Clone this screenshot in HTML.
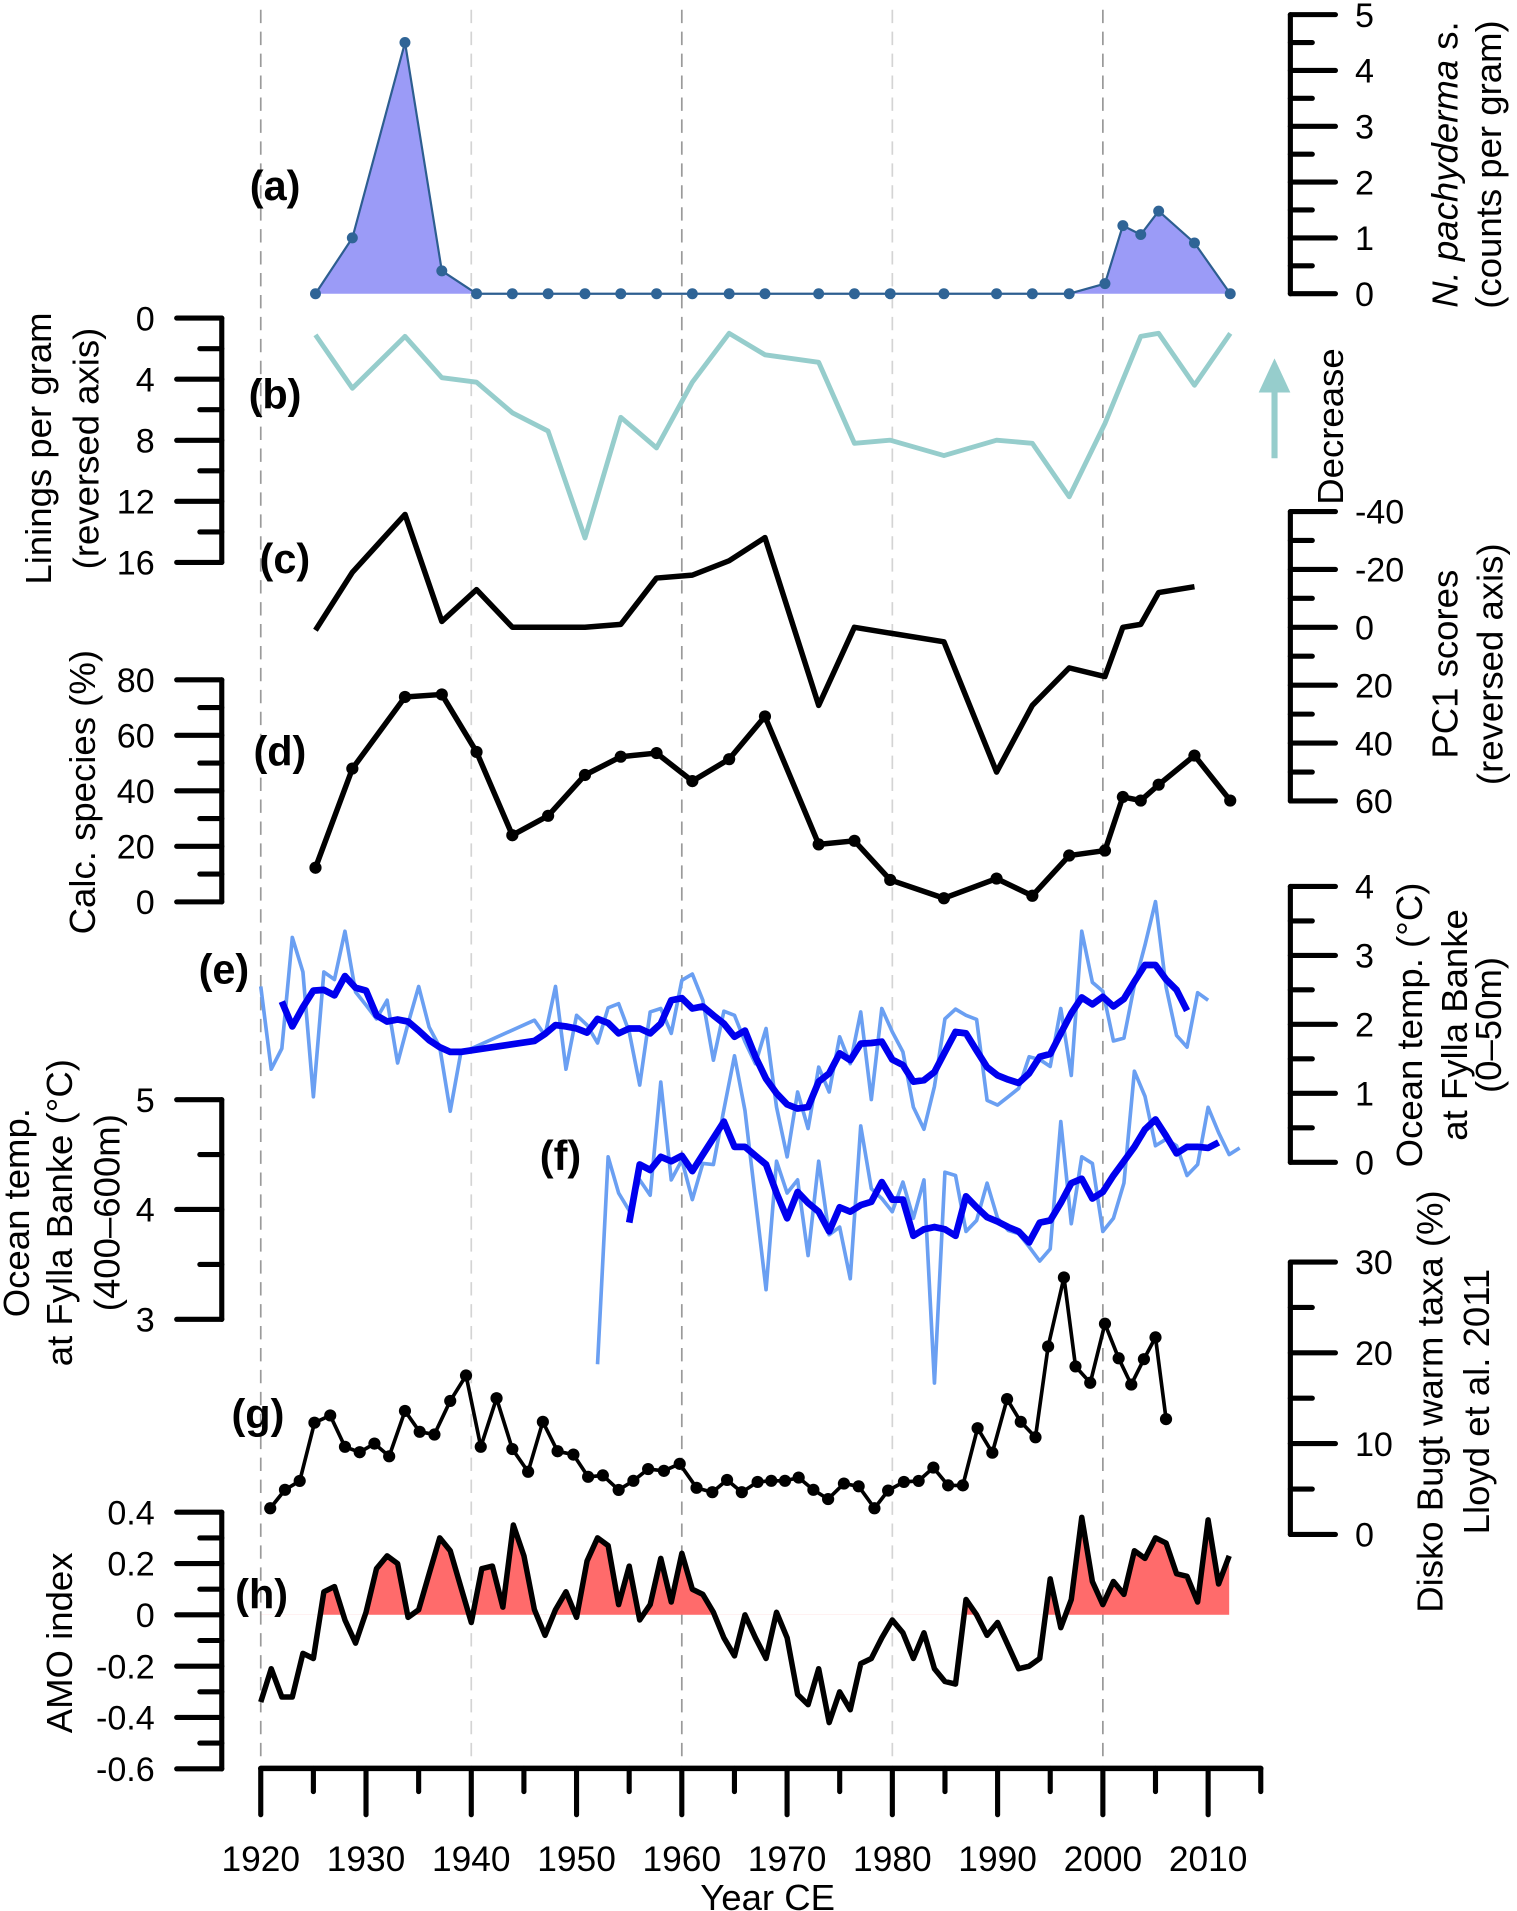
<!DOCTYPE html>
<html><head><meta charset="utf-8"><style>
html,body{margin:0;padding:0;background:#fff;}
svg{display:block;font-family:"Liberation Sans",Arial,sans-serif;}
</style></head><body>
<svg id="chart" width="1517" height="1911" viewBox="0 0 1245 1568" preserveAspectRatio="none" xmlns="http://www.w3.org/2000/svg">
<defs><clipPath id="hclip"><rect x="0" y="0" width="1245" height="1325"/></clipPath></defs>
<g id="grid"></g>
<g id="marks"></g>
<g id="axes"></g>
<g id="labels" font-size="30" fill="#000">
<text x="205" y="164" font-size="34" font-weight="bold">(a)</text>
<text x="204" y="335" font-size="34" font-weight="bold">(b)</text>
<text x="213" y="470" font-size="34" font-weight="bold">(c)</text>
<text x="208" y="628" font-size="34" font-weight="bold">(d)</text>
<text x="163" y="807" font-size="34" font-weight="bold">(e)</text>
<text x="443" y="960" font-size="34" font-weight="bold">(f)</text>
<text x="190" y="1172" font-size="34" font-weight="bold">(g)</text>
<text x="193" y="1320" font-size="34" font-weight="bold">(h)</text>
<text transform="translate(42,368) rotate(-90)" text-anchor="middle">Linings per gram</text>
<text transform="translate(81,368) rotate(-90)" text-anchor="middle">(reversed axis)</text>
<text transform="translate(78,650) rotate(-90)" text-anchor="middle">Calc. species (%)</text>
<text transform="translate(24,995) rotate(-90)" text-anchor="middle">Ocean temp.</text>
<text transform="translate(59,995) rotate(-90)" text-anchor="middle">at Fylla Banke (°C)</text>
<text transform="translate(98,995) rotate(-90)" text-anchor="middle">(400–600m)</text>
<text transform="translate(59,1348) rotate(-90)" text-anchor="middle">AMO index</text>
<text transform="translate(1196,135) rotate(-90)" text-anchor="middle"><tspan font-style="italic">N. pachyderma</tspan> s.</text>
<text transform="translate(1232,135) rotate(-90)" text-anchor="middle">(counts per gram)</text>
<text transform="translate(1102,350) rotate(-90)" text-anchor="middle">Decrease</text>
<text transform="translate(1196,545) rotate(-90)" text-anchor="middle">PC1 scores</text>
<text transform="translate(1233,545) rotate(-90)" text-anchor="middle">(reversed axis)</text>
<text transform="translate(1167,841) rotate(-90)" text-anchor="middle">Ocean temp. (°C)</text>
<text transform="translate(1204,841) rotate(-90)" text-anchor="middle">at Fylla Banke</text>
<text transform="translate(1232,841) rotate(-90)" text-anchor="middle">(0–50m)</text>
<text transform="translate(1184,1150) rotate(-90)" text-anchor="middle">Disko Bugt warm taxa (%)</text>
<text transform="translate(1222,1150) rotate(-90)" text-anchor="middle">Lloyd et al. 2011</text>
<text x="630" y="1567" text-anchor="middle" font-size="30">Year CE</text>
</g>
<g>
<line x1="1046" y1="376" x2="1046" y2="316" stroke="#96cdcc" stroke-width="5"/>
<polygon points="1046,294 1033,322 1059,322" fill="#96cdcc"/>
</g>
</svg>
<script>
// ---- data ----
const aYears=[1925.2,1928.7,1933.7,1937.2,1940.5,1943.9,1947.3,1950.8,1954.2,1957.6,1961.0,1964.5,1967.9,1973.0,1976.4,1979.8,1984.9,1989.9,1993.3,1996.8,2000.2,2001.9,2003.6,2005.3,2008.7,2012.1];
const aVals=[0,1.0,4.5,0.41,0,0,0,0,0,0,0,0,0,0,0,0,0,0,0,0,0.18,1.22,1.06,1.48,0.91,0];
const bYears=[1925.2,1928.7,1933.7,1937.2,1940.5,1943.9,1947.3,1950.8,1954.2,1957.6,1961.0,1964.5,1967.9,1973.0,1976.4,1979.8,1984.9,1989.9,1993.3,1996.8,2000.2,2003.6,2005.3,2008.7,2012.1];
const bVals=[1.1,4.6,1.2,3.9,4.2,6.2,7.4,14.4,6.5,8.5,4.2,1.0,2.4,2.9,8.2,8.0,9.0,8.0,8.2,11.7,6.9,1.2,1.0,4.4,1.0];
const cYears=[1925.2,1928.7,1933.7,1937.2,1940.5,1943.9,1947.3,1950.8,1954.2,1957.6,1961.0,1964.5,1967.9,1973.0,1976.4,1979.8,1984.9,1989.9,1993.3,1996.8,2000.2,2001.9,2003.6,2005.3,2008.7];
const cVals=[1,-19,-39,-2,-13,0,0,0,-1,-17,-18,-23,-31,27,0,2,5,50,27,14,17,0,-1,-12,-14];
const dYears=[1925.2,1928.7,1933.7,1937.2,1940.5,1943.9,1947.3,1950.8,1954.2,1957.6,1961.0,1964.5,1967.9,1973.0,1976.4,1979.8,1984.9,1989.9,1993.3,1996.8,2000.2,2001.9,2003.6,2005.3,2008.7,2012.1];
const dVals=[12.3,48,73.8,74.7,54,24,31,45.7,52.3,53.6,43.5,51.4,66.8,20.7,22,7.9,1.3,8.4,2.2,16.7,18.5,37.8,36.5,42.2,52.7,36.5];
const eLightYears=[1920,1921,1922,1923,1924,1925,1926,1927,1928,1929,1930,1931,1932,1933,1934,1935,1936,1937,1938,1939,
1946,1947,1948,1949,1950,1951,1952,1953,1954,1955,1956,1957,1958,1959,1960,1961,1962,1963,1964,1965,
1966,1967,1968,1969,1970,1971,1972,1973,1974,1975,1976,1977,1978,1979,1980,1981,1982,1983,1984,1985,
1986,1987,1988,1989,1990,1991,1992,1993,1994,1995,1996,1997,1998,1999,2000,2001,2002,2003,2004,2005,2006,2007,2008,2009,2010];
const eLightVals=[2.55,1.35,1.65,3.26,2.76,0.95,2.76,2.65,3.35,2.47,2.28,2.08,2.35,1.44,2.01,2.55,1.96,1.67,0.74,1.58,
2.06,1.84,2.55,1.35,2.13,1.99,1.73,2.24,2.30,1.89,1.12,2.18,2.23,1.87,2.64,2.73,2.35,1.48,2.19,2.13,
1.75,1.43,1.94,0.80,0.08,1.02,0.49,1.38,1.02,1.82,1.43,2.18,0.91,2.23,1.89,1.60,0.80,0.48,1.10,2.08,
2.22,2.13,2.07,0.90,0.83,0.95,1.07,1.53,1.49,1.39,2.23,1.26,3.35,2.61,2.48,1.76,1.80,2.57,3.15,3.78,2.54,1.84,1.67,2.46,2.35];
const eDarkYears=[1922,1923,1924,1925,1926,1927,1928,1929,1930,1931,1932,1933,1934,1935,1936,1937,1938,1939,
1946,1947,1948,1949,1950,1951,1952,1953,1954,1955,1956,1957,1958,1959,1960,1961,1962,1963,1964,1965,
1966,1967,1968,1969,1970,1971,1972,1973,1974,1975,1976,1977,1978,1979,1980,1981,1982,1983,1984,1985,
1986,1987,1988,1989,1990,1991,1992,1993,1994,1995,1996,1997,1998,1999,2000,2001,2002,2003,2004,2005,2006,2007,2008];
const eDarkVals=[2.33,1.97,2.25,2.49,2.50,2.42,2.70,2.53,2.49,2.13,2.04,2.07,2.04,1.91,1.77,1.67,1.60,1.60,
1.76,1.86,1.99,1.97,1.94,1.88,2.08,2.02,1.87,1.94,1.94,1.87,2.01,2.35,2.38,2.23,2.26,2.13,2.01,1.82,
1.91,1.53,1.21,1.00,0.84,0.78,0.80,1.17,1.29,1.58,1.48,1.72,1.73,1.75,1.49,1.41,1.17,1.19,1.31,1.60,
1.89,1.87,1.62,1.38,1.26,1.20,1.15,1.29,1.53,1.57,1.87,2.16,2.39,2.29,2.40,2.26,2.37,2.62,2.86,2.86,2.65,2.50,2.20];
const fLightYears=[1952,1953,1954,1955,1956,1957,1958,1959,1960,1961,1962,1963,1964,1965,1966,1967,1968,1969,1970,1971,1972,1973,1974,1975,1976,1977,1978,1979,1980,1981,1982,1983,1984,1985,1986,1987,1988,1989,1990,1991,1992,1993,1994,1995,1996,1997,1998,1999,2000,2001,2002,2003,2004,2005,2006,2007,2008,2009,2010,2011,2012,2013];
const fLightVals=[2.59,4.48,4.15,3.99,4.27,4.13,5.16,4.27,4.45,4.09,4.42,4.41,4.91,5.4,4.90,4.09,3.27,
4.44,4.15,4.27,3.58,4.44,3.77,3.84,3.37,4.76,4.19,4.10,3.98,4.25,3.92,4.27,2.42,4.34,4.31,3.80,3.90,
4.24,3.92,3.81,3.78,3.66,3.53,3.64,4.80,3.87,4.48,4.42,3.80,3.92,4.24,5.26,5.03,4.58,4.64,4.58,4.31,4.41,4.93,4.70,4.50,4.56];
const fDarkYears=[1955,1956,1957,1958,1959,1960,1961,1962,1963,1964,1965,1966,1967,1968,1969,1970,1971,1972,1973,1974,1975,1976,1977,1978,1979,1980,1981,1982,1983,1984,1985,1986,1987,1988,1989,1990,1991,1992,1993,1994,1995,1996,1997,1998,1999,2000,2001,2002,2003,2004,2005,2006,2007,2008,2009,2010,2011];
const fDarkVals=[3.88,4.41,4.36,4.48,4.44,4.49,4.35,4.50,4.65,4.80,4.57,4.57,
4.49,4.41,4.15,3.92,4.16,4.06,3.98,3.80,4.02,3.98,4.04,4.07,4.25,4.09,4.09,3.76,3.82,3.84,3.82,3.76,
4.12,4.02,3.93,3.89,3.84,3.80,3.70,3.88,3.90,4.06,4.24,4.28,4.10,4.16,4.31,4.44,4.57,4.73,4.82,4.67,4.51,4.57,4.57,4.56,4.61];
const gYears=[1920.9,1922.3,1923.7,1925.1,1926.6,1928.0,1929.4,1930.8,1932.2,1933.7,1935.1,1936.5,1938.0,1939.5,1940.9,1942.4,1943.9,1945.4,1946.8,1948.2,1949.7,1951.1,1952.5,1954.0,1955.4,1956.8,1958.3,1959.8,1961.4,1962.9,1964.3,1965.7,1967.2,1968.5,1969.8,1971.1,1972.5,1973.9,1975.4,1976.8,1978.3,1979.6,1981.1,1982.5,1983.9,1985.3,1986.7,1988.1,1989.5,1990.9,1992.2,1993.6,1994.8,1996.3,1997.4,1998.8,2000.2,2001.5,2002.7,2003.9,2005.0,2006.0];
const gVals=[2.88,4.91,5.89,12.3,13.1,9.65,9.05,10.0,8.6,13.6,11.3,11.0,14.7,17.5,9.65,15.0,9.4,6.9,12.4,9.16,8.79,6.34,6.5,4.9,5.9,7.2,7.0,7.77,5.13,4.65,6.0,4.65,5.78,5.9,5.9,6.26,4.91,3.89,5.6,5.3,2.88,4.83,5.78,5.89,7.36,5.4,5.4,11.7,9.0,14.9,12.4,10.7,20.7,28.3,18.5,16.7,23.2,19.4,16.5,19.3,21.7,12.7];
const hYears=[1920,1921,1922,1923,1924,1925,1926,1927,1928,1929,1930,1931,1932,1933,1934,1935,1936,1937,1938,1939,1940,1941,1942,1943,1944,1945,1946,1947,1948,1949,1950,1951,1952,1953,1954,1955,1956,1957,1958,1959,1960,1961,1962,1963,1964,1965,1966,1967,1968,1969,1970,1971,1972,1973,1974,1975,1976,1977,1978,1979,1980,1981,1982,1983,1984,1985,1986,1987,1988,1989,1990,1991,1992,1993,1994,1995,1996,1997,1998,1999,2000,2001,2002,2003,2004,2005,2006,2007,2008,2009,2010,2011,2012];
const hVals=[-0.34,-0.21,-0.32,-0.32,-0.15,-0.17,0.09,0.11,-0.02,-0.11,0.01,0.18,0.23,0.20,-0.01,0.02,0.16,0.30,0.25,0.11,
-0.03,0.18,0.19,0.03,0.35,0.23,0.02,-0.08,0.02,0.09,-0.01,0.21,0.30,0.27,0.04,0.19,-0.02,0.04,0.22,0.05,
0.24,0.10,0.08,0.01,-0.09,-0.16,0.00,-0.09,-0.17,0.01,-0.09,-0.31,-0.35,-0.21,-0.42,-0.30,-0.37,-0.19,-0.17,-0.09,
-0.02,-0.07,-0.17,-0.07,-0.21,-0.26,-0.27,0.06,0.00,-0.08,-0.03,-0.12,-0.21,-0.20,-0.17,0.14,-0.05,0.06,0.38,0.13,
0.04,0.13,0.08,0.25,0.22,0.30,0.28,0.16,0.15,0.05,0.37,0.12,0.23];
const xTickYears=[1920,1930,1940,1950,1960,1970,1980,1990,2000,2010];
const xTickLabels=["1920","1930","1940","1950","1960","1970","1980","1990","2000","2010"];
const gridYears=[1920,1940,1960,1980,2000];
const aTicks=[0,1,2,3,4,5];
const bTicks=[0,4,8,12,16];
const cTicks=[-40,-20,0,20,40,60];
const dTicks=[0,20,40,60,80];
const eTicks=[0,1,2,3,4];
const fTicks=[3,4,5];
const gTicks=[0,10,20,30];
const hTicks=[-0.6,-0.4,-0.2,0,0.2,0.4];
const hTickLabels=["-0.6","-0.4","-0.2","0","0.2","0.4"];

// ---- scales ----
const X=y=>214+(y-1920)*8.639;
const Ya=v=>241-v*45.8;
const Yb=v=>261+v*12.53;
const Yc=v=>419.7+(v+40)*2.375;
const Yd=v=>740-v*2.278;
const Ye=v=>953.7-v*56.6;
const Yf=v=>902.3+(5-v)*90.1;
const Yg=v=>1259-v*7.45;
const Yh=v=>1325-v*210.5;

const NS="http://www.w3.org/2000/svg";
const grid=document.getElementById('grid');
const marks=document.getElementById('marks');
const axes=document.getElementById('axes');
function el(tag,parent){const e=document.createElementNS(NS,tag);parent.appendChild(e);return e;}
function pathD(xs,vs,Y){return xs.map((x,i)=>(i?'L':'M')+X(x).toFixed(1)+','+Y(vs[i]).toFixed(1)).join('');}

gridYears.forEach(y=>{
  const l=el('line',grid);
  
  
  l.setAttribute('x1',X(y));l.setAttribute('x2',X(y));l.setAttribute('y1',8);l.setAttribute('y2',1448);
  l.setAttribute('stroke',(y===1940||y===1980)?'#d4d4d4':'#9a9a9a');
  l.setAttribute('stroke-width','1.4');l.setAttribute('stroke-dasharray','11,7');
});

function series(xs,vs,Y,stroke,w,name){
  const p=el('path',marks);
  
  
  p.setAttribute('d',pathD(xs,vs,Y));p.setAttribute('fill','none');p.setAttribute('stroke',stroke);
  p.setAttribute('stroke-width',w);p.setAttribute('stroke-linejoin','round');
  return p;
}
function dots(xs,vs,Y,fill,r,name){
  xs.forEach((x,i)=>{
    const c=el('circle',marks);
    
    
    c.setAttribute('cx',X(x));c.setAttribute('cy',Y(vs[i]));c.setAttribute('r',r);c.setAttribute('fill',fill);
  });
}

const aFill=el('path',marks);


aFill.setAttribute('d',pathD(aYears,aVals,Ya)+'L'+X(aYears[aYears.length-1])+','+Ya(0)+'L'+X(aYears[0])+','+Ya(0)+'Z');
aFill.setAttribute('fill','#9b9bf7');
series(aYears,aVals,Ya,'#2d5e90',1.8,'a-line');
dots(aYears,aVals,Ya,'#2f6496',4.5,'a-point');
series(bYears,bVals,Yb,'#96cdcc',4,'b-line');
series(cYears,cVals,Yc,'#000',4.5,'c-line');
series(dYears,dVals,Yd,'#000',4.5,'d-line');
dots(dYears,dVals,Yd,'#000',5,'d-point');
series(eLightYears,eLightVals,Ye,'#6a9ff2',3,'e-annual-line');
series(eDarkYears,eDarkVals,Ye,'#0000ee',5.5,'e-smoothed-line');
series(fLightYears,fLightVals,Yf,'#6a9ff2',3,'f-annual-line');
series(fDarkYears,fDarkVals,Yf,'#0000ee',5.5,'f-smoothed-line');
series(gYears,gVals,Yg,'#000',3,'g-line');
dots(gYears,gVals,Yg,'#000',5,'g-point');
const hFill=el('path',marks);


hFill.setAttribute('d',pathD(hYears,hVals,Yh)+'L'+X(hYears[hYears.length-1])+','+Yh(0)+'L'+X(hYears[0])+','+Yh(0)+'Z');
hFill.setAttribute('fill','#ff6b6b');hFill.setAttribute('clip-path','url(#hclip)');
series(hYears,hVals,Yh,'#000',4.5,'h-line');

function axisLine(x1,y1,x2,y2,name,w){
  const l=el('line',axes);
  
  
  l.setAttribute('x1',x1);l.setAttribute('y1',y1);l.setAttribute('x2',x2);l.setAttribute('y2',y2);
  l.setAttribute('stroke','#000');l.setAttribute('stroke-width',w||4.2);l.setAttribute('stroke-linecap','round');
}
function label(x,y,txt,anchor,name,fs){
  const t=el('text',axes);
  
  
  t.setAttribute('x',x);t.setAttribute('y',y);t.setAttribute('text-anchor',anchor);t.setAttribute('font-size',fs||'28');
  t.textContent=txt;
}
function vAxis(side,ticks,labels,Y,name){
  const ax=side==='left'?182:1059;
  const dir=side==='left'?-1:1;
  const lo=ticks[0],hi=ticks[ticks.length-1];
  axisLine(ax,Y(lo),ax,Y(hi),name+'-line');
  ticks.forEach((t,i)=>{
    axisLine(ax,Y(t),ax+dir*37,Y(t),name+'-major-tick');
    if(i<ticks.length-1){const m=(t+ticks[i+1])/2;axisLine(ax,Y(m),ax+dir*18,Y(m),name+'-minor-tick');}
    label(side==='left'?127:1112,Y(t)+10,labels[i],side==='left'?'end':'start',name+'-tick-label');
  });
}
vAxis('right',aTicks,aTicks.map(String),Ya,'a-axis');
vAxis('left',bTicks,bTicks.map(String),Yb,'b-axis');
vAxis('right',cTicks,cTicks.map(String),Yc,'c-axis');
vAxis('left',dTicks,dTicks.map(String),Yd,'d-axis');
vAxis('right',eTicks,eTicks.map(String),Ye,'e-axis');
vAxis('left',fTicks,fTicks.map(String),Yf,'f-axis');
vAxis('right',gTicks,gTicks.map(String),Yg,'g-axis');
vAxis('left',hTicks,hTickLabels,Yh,'h-axis');

axisLine(X(1920),1451,X(2015),1451,'x-axis-line',4.5);
xTickYears.forEach((y,i)=>{
  axisLine(X(y),1451,X(y),1489,'x-major-tick',4.2);
  axisLine(X(y+5),1451,X(y+5),1470,'x-minor-tick',4.2);
  label(X(y),1535,xTickLabels[i],'middle','x-tick-label','29');
});
</script>
</body></html>
